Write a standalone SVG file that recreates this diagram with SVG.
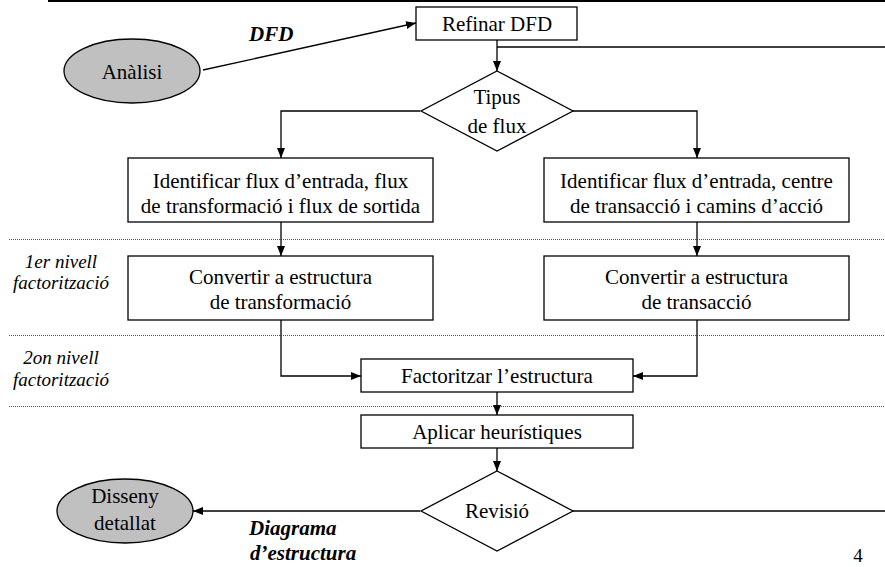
<svg xmlns="http://www.w3.org/2000/svg" width="885" height="567" viewBox="0 0 885 567" font-family="'Liberation Serif', Tinos, 'Times New Roman', 'DejaVu Serif', serif">
<style>
.box{fill:#fff;stroke:#000;stroke-width:1.3}
.ell{fill:#c0c0c0;stroke:#000;stroke-width:1.3}
text{font-family:'Liberation Serif', Tinos, 'Times New Roman', 'DejaVu Serif', serif}
.t{font-size:21px;fill:#000;text-anchor:middle}
.lab{font-size:19px;font-style:italic;fill:#000;text-anchor:middle}
.bi{font-size:21px;font-style:italic;font-weight:bold;fill:#000}
.c{fill:none;stroke:#000;stroke-width:1.3}
.dot{stroke:#555;stroke-width:1;stroke-dasharray:1 1}
</style>
<defs>
<marker id="ar" viewBox="0 0 10 10" refX="10" refY="5" markerWidth="10" markerHeight="10" markerUnits="userSpaceOnUse" orient="auto">
<path d="M0,1 L10,5 L0,9 z" fill="#000"/>
</marker>
</defs>
<line x1="48" y1="1" x2="885" y2="1" stroke="#000" stroke-width="2"/>
<g id="levels">
<line class="dot" x1="9" y1="239.5" x2="885" y2="239.5"/>
<line class="dot" x1="9" y1="335.5" x2="885" y2="335.5"/>
<line class="dot" x1="9" y1="406.5" x2="885" y2="406.5"/>
<text class="lab" x="61" y="268">1er nivell</text>
<text class="lab" x="61" y="289">factorització</text>
<text class="lab" x="61" y="364">2on nivell</text>
<text class="lab" x="61" y="386">factorització</text>
</g>
<g id="connectors">
<line class="c" x1="203" y1="70" x2="416" y2="23" marker-end="url(#ar)"/>
<line class="c" x1="497" y1="40" x2="497" y2="71" marker-end="url(#ar)"/>
<line class="c" x1="497" y1="47" x2="885" y2="47"/>
<polyline class="c" points="420,111 281,111 281,158" marker-end="url(#ar)"/>
<polyline class="c" points="572,111 697,111 697,158" marker-end="url(#ar)"/>
<line class="c" x1="281" y1="222" x2="281" y2="256" marker-end="url(#ar)"/>
<line class="c" x1="697" y1="222" x2="697" y2="256" marker-end="url(#ar)"/>
<polyline class="c" points="281,320 281,376 361,376" marker-end="url(#ar)"/>
<polyline class="c" points="697,320 697,376 633,376" marker-end="url(#ar)"/>
<line class="c" x1="497" y1="392" x2="497" y2="415" marker-end="url(#ar)"/>
<line class="c" x1="497" y1="448" x2="497" y2="471" marker-end="url(#ar)"/>
<line class="c" x1="420" y1="511" x2="193" y2="511" marker-end="url(#ar)"/>
<line class="c" x1="572" y1="511" x2="885" y2="511"/>
<text class="bi" x="249" y="41">DFD</text>
<text class="bi" x="249" y="535">Diagrama</text>
<text class="bi" x="250" y="560">d’estructura</text>
</g>
<g id="analisi">
<ellipse class="ell" cx="132" cy="71" rx="68" ry="32"/>
<text class="t" x="132" y="79">Anàlisi</text>
</g>
<g id="refinar">
<rect class="box" x="416" y="7" width="161" height="33"/>
<text class="t" x="497" y="31">Refinar DFD</text>
</g>
<g id="tipus">
<polygon class="box" points="497,71 573,111 497,151 421,111"/>
<text class="t" x="497" y="104">Tipus</text>
<text class="t" x="497" y="133">de flux</text>
</g>
<g id="idTransf">
<rect class="box" x="128" y="158" width="305" height="64"/>
<text class="t" x="280.5" y="188">Identificar flux d’entrada, flux</text>
<text class="t" x="280.5" y="213">de transformació i flux de sortida</text>
</g>
<g id="idTrans">
<rect class="box" x="544" y="158" width="305" height="64"/>
<text class="t" x="696.5" y="188">Identificar flux d’entrada, centre</text>
<text class="t" x="696.5" y="213">de transacció i camins d’acció</text>
</g>
<g id="convTransf">
<rect class="box" x="128" y="256" width="305" height="64"/>
<text class="t" x="280.5" y="284">Convertir a estructura</text>
<text class="t" x="280.5" y="309">de transformació</text>
</g>
<g id="convTrans">
<rect class="box" x="544" y="256" width="305" height="64"/>
<text class="t" x="696.5" y="284">Convertir a estructura</text>
<text class="t" x="696.5" y="309">de transacció</text>
</g>
<g id="factoritzar">
<rect class="box" x="361" y="359" width="272" height="33"/>
<text class="t" x="497" y="383">Factoritzar l’estructura</text>
</g>
<g id="aplicar">
<rect class="box" x="361" y="415" width="272" height="33"/>
<text class="t" x="497" y="439">Aplicar heurístiques</text>
</g>
<g id="revisio">
<polygon class="box" points="497,471 573,511 497,551 421,511"/>
<text class="t" x="497" y="518">Revisió</text>
</g>
<g id="disseny">
<ellipse class="ell" cx="125" cy="511" rx="68" ry="32"/>
<text class="t" x="125" y="503">Disseny</text>
<text class="t" x="125" y="530">detallat</text>
</g>
<text class="t" x="858" y="562" style="font-size:19px">4</text>
</svg>
